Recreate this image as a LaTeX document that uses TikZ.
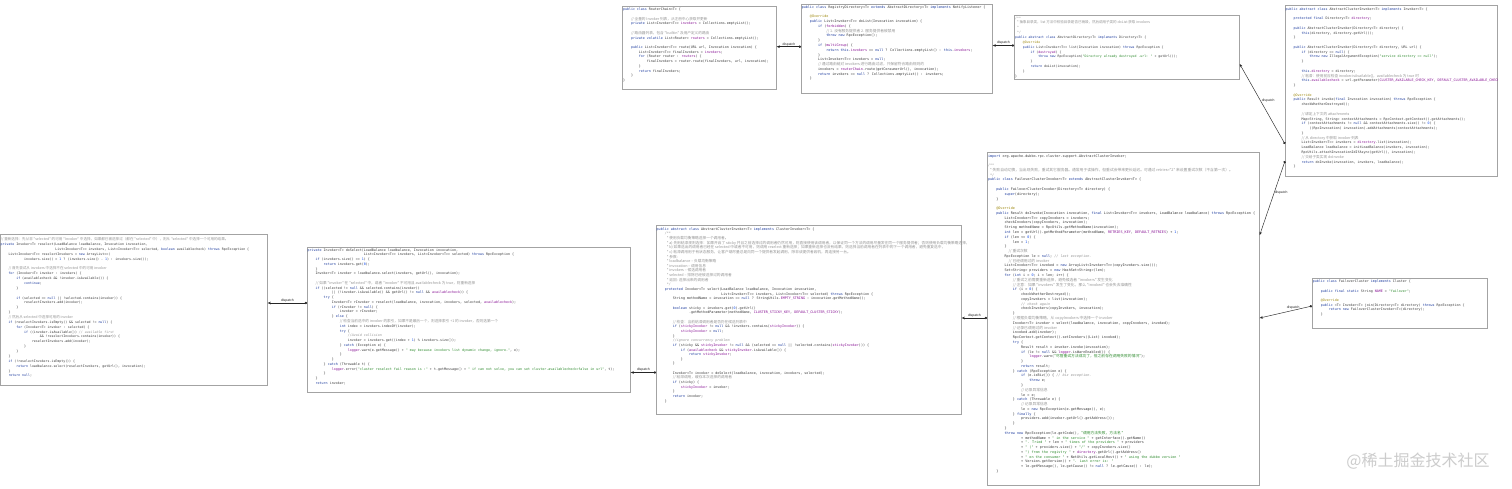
\documentclass[tikz,border=0pt]{standalone}
\usepackage{fontspec}
\setmainfont{Liberation Sans}
\newfontfamily\codefont{DejaVu Sans Mono}[Ligatures=TeXOff]
\newfontfamily\cjkfont{Noto Sans CJK SC}[Ligatures=TeXOff,Scale=1.1]
\newfontfamily\wmfont{Noto Sans CJK SC}
\newfontfamily\lblfont{Liberation Sans}
\usetikzlibrary{arrows.meta,calc}
\definecolor{codetext}{HTML}{383838}
\definecolor{kwc}{HTML}{1B3A9E}
\definecolor{cmc}{HTML}{959595}
\definecolor{stc}{HTML}{2E8B2E}
\definecolor{fdc}{HTML}{871094}
\definecolor{anc}{HTML}{9E880D}
\definecolor{nuc}{HTML}{1750EB}
\definecolor{boxc}{HTML}{A3A3A3}
\newcommand\jk[1]{{\color{kwc}#1}}
\newcommand\jc[1]{{\color{cmc}\itshape #1}}
\newcommand\jz[1]{{\color{cmc}\cjkfont #1}}
\newcommand\js[1]{{\color{stc}#1}}
\newcommand\jzs[1]{{\color{stc}\cjkfont #1}}
\newcommand\jf[1]{{\color{fdc}#1}}
\newcommand\ja[1]{{\color{anc}#1}}
\newcommand\jnum[1]{{\color{nuc}#1}}
\newcommand\jn[1]{\hspace*{#1\fontcharwd\font`0}}
\newcommand\jtop{\rule{0pt}{0.8\baselineskip}}
\newcommand\codesz[2]{\codefont\fontsize{#1pt}{#2pt}\selectfont}
\tikzset{
  codebox/.style={draw=boxc, line width=0.7pt, fill=white, anchor=north west, inner sep=0pt},
  code/.style={inner sep=0pt, anchor=north west, align=left, text=codetext},
  disp/.style={draw=black!85, line width=0.45pt, {Circle[length=2.4pt]}-{Stealth[length=3.2pt,width=2.6pt]}},
  lbl/.style={font=\lblfont\fontsize{3.4pt}{4pt}\selectfont, text=black!85, inner sep=0.4pt},
  wm/.style={font=\wmfont\fontsize{16pt}{18pt}\selectfont, text=gray!40, inner sep=0pt}
}
\begin{document}
\begin{tikzpicture}[x=1pt,y=-1pt]
\useasboundingbox (0,0) rectangle (1512,488);
\fill[white] (0,0) rectangle (1512,488);

% boxes
\node[codebox, minimum width=267pt, minimum height=151pt] (b1) at (0,234) {};
\node[codebox, minimum width=323pt, minimum height=145pt] (b2) at (307,247) {};
\node[codebox, minimum width=305pt, minimum height=189pt] (b3) at (656,225) {};
\node[codebox, minimum width=272pt, minimum height=333pt] (b4) at (987,152) {};
\node[codebox, minimum width=154pt, minimum height=83pt] (b5) at (622,6) {};
\node[codebox, minimum width=191pt, minimum height=89pt] (b6) at (801,4) {};
\node[codebox, minimum width=225pt, minimum height=64pt] (b7) at (1014,15) {};
\node[codebox, minimum width=212pt, minimum height=171pt] (b8) at (1285,5) {};
\node[codebox, minimum width=175pt, minimum height=50pt] (b9) at (1312,278) {};

% box 1: reselect
\node[code, font=\codesz{3.25}{4.86}] (t1) at (0.5,236.7) {%
\jtop\jz{// 重新选择：先从非 "selected" 的可用 "Invoker" 中选择，如果都已被选择过（都在 "selected" 中），则从 "selected" 中选择一个可用的结果。}\\
\jk{private} Invoker<T> reselect(LoadBalance loadbalance, Invocation invocation,\\
\jn{28}List<Invoker<T>> invokers, List<Invoker<T>> selected, \jk{boolean} availablecheck) \jk{throws} RpcException \{\\
\jn{4}List<Invoker<T>> reselectInvokers = \jk{new} ArrayList<>(\\
\jn{12}invokers.size() > \jnum{1} ? (invokers.size() - \jnum{1}) : invokers.size());\\
\mbox{}\\
\jn{4}\jz{// 首先尝试从 invokers 中选择不在 selected 中的可用 invoker}\\
\jn{4}\jk{for} (Invoker<T> invoker : invokers) \{\\
\jn{8}\jk{if} (availablecheck \&\& !invoker.isAvailable()) \{\\
\jn{12}\jk{continue};\\
\jn{8}\}\\
\mbox{}\\
\jn{8}\jk{if} (selected == \jk{null} || !selected.contains(invoker)) \{\\
\jn{12}reselectInvokers.add(invoker);\\
\jn{8}\}\\
\jn{4}\}\\
\jn{4}\jz{// 然后从 selected 中选择可用的 invoker}\\
\jn{4}\jk{if} (reselectInvokers.isEmpty() \&\& selected != \jk{null}) \{\\
\jn{8}\jk{for} (Invoker<T> invoker : selected) \{\\
\jn{12}\jk{if} ((invoker.isAvailable()) \jc{// available first}\\
\jn{20}\&\& !reselectInvokers.contains(invoker)) \{\\
\jn{16}reselectInvokers.add(invoker);\\
\jn{12}\}\\
\jn{8}\}\\
\jn{4}\}\\
\jn{4}\jk{if} (!reselectInvokers.isEmpty()) \{\\
\jn{8}\jk{return} loadbalance.select(reselectInvokers, getUrl(), invocation);\\
\jn{4}\}\\
\jn{4}\jk{return null};};

% box 2: doSelect
\node[code, font=\codesz{3.33}{4.76}] (t2) at (307.5,247.1) {%
\jtop\jk{private} Invoker<T> doSelect(LoadBalance loadbalance, Invocation invocation,\\
\jn{28}List<Invoker<T>> invokers, List<Invoker<T>> selected) \jk{throws} RpcException \{\\
\jn{4}\jk{if} (invokers.size() == \jnum{1}) \{\\
\jn{8}\jk{return} invokers.get(\jnum{0});\\
\jn{4}\}\\
\jn{4}Invoker<T> invoker = loadbalance.select(invokers, getUrl(), invocation);\\
\mbox{}\\
\jn{4}\jz{// 如果 "invoker" 在 "selected" 中，或者 "invoker" 不可用且 availablecheck 为 true，则重新选择}\\
\jn{4}\jk{if} ((selected != \jk{null} \&\& selected.contains(invoker))\\
\jn{12}|| (!invoker.isAvailable() \&\& getUrl() != \jk{null} \&\& \jf{availablecheck})) \{\\
\jn{8}\jk{try} \{\\
\jn{12}Invoker<T> rInvoker = reselect(loadbalance, invocation, invokers, selected, \jf{availablecheck});\\
\jn{12}\jk{if} (rInvoker != \jk{null}) \{\\
\jn{16}invoker = rInvoker;\\
\jn{12}\} \jk{else} \{\\
\jn{16}\jz{// 检查当前选中的 invoker 的索引，如果不是最后一个，则选择索引 +1 的 invoker，否则选第一个}\\
\jn{16}\jk{int} index = invokers.indexOf(invoker);\\
\jn{16}\jk{try} \{\\
\jn{20}\jc{//Avoid collision}\\
\jn{20}invoker = invokers.get((index + \jnum{1}) \% invokers.size());\\
\jn{16}\} \jk{catch} (Exception e) \{\\
\jn{20}\jf{logger}.warn(e.getMessage() + \js{" may because invokers list dynamic change, ignore."}, e);\\
\jn{16}\}\\
\jn{12}\}\\
\jn{8}\} \jk{catch} (Throwable t) \{\\
\jn{12}\jf{logger}.error(\js{"cluster reselect fail reason is :"} + t.getMessage() + \js{" if can not solve, you can set cluster.availablecheck=false in url"}, t);\\
\jn{8}\}\\
\jn{4}\}\\
\jn{4}\jk{return} invoker;};

% box 3: select
\node[code, font=\codesz{3.36}{4.65}] (t3) at (656.5,226.2) {%
\jtop\jk{public abstract class} AbstractClusterInvoker<T> \jk{implements} ClusterInvoker<T> \{\\
\jn{4}\jc{/**}\\
\jn{5}\jz{* 使用负载均衡策略选择一个调用者。}\\
\jn{5}\jz{* a) 先用粘滞规则选择：如果开启了 sticky 并且之前选择过的调用者仍然可用，则直接使用该调用者，以保证同一个方法的调用尽量发往同一个服务提供者；否则使用负载均衡策略选择，}\\
\jn{5}\jz{* b) 如果选出的调用者已经在 selected 中或者不可用，则调用 reselect 重新选择；如果重新选择也没有结果，则选择当前调用者在列表中的下一个调用者，避免重复选中，}\\
\jn{5}\jz{* c) 粘滞调用用于有状态服务，让客户端尽量总是向同一个提供者发起调用，除非该提供者宕机，再连接另一台。}\\
\jn{5}\jz{* 参数:}\\
\jn{5}\jz{* loadbalance – 负载均衡策略}\\
\jn{5}\jz{* invocation – 调用信息}\\
\jn{5}\jz{* invokers – 候选调用者}\\
\jn{5}\jz{* selected – 排除已经被选择过的调用者}\\
\jn{5}\jz{* 返回: 选择出来的调用者}\\
\jn{5}\jc{*/}\\
\jn{4}\jk{protected} Invoker<T> select(LoadBalance loadbalance, Invocation invocation,\\
\jn{32}List<Invoker<T>> invokers, List<Invoker<T>> selected) \jk{throws} RpcException \{\\
\jn{8}String methodName = invocation == \jk{null} ? StringUtils.\jf{EMPTY\_STRING} : invocation.getMethodName();\\
\mbox{}\\
\jn{8}\jk{boolean} sticky = invokers.get(\jnum{0}).getUrl()\\
\jn{16}.getMethodParameter(methodName, \jf{CLUSTER\_STICKY\_KEY}, \jf{DEFAULT\_CLUSTER\_STICKY});\\
\mbox{}\\
\jn{8}\jz{// 检查：当前粘滞调用者是否仍在候选列表中}\\
\jn{8}\jk{if} (\jf{stickyInvoker} != \jk{null} \&\& !invokers.contains(\jf{stickyInvoker})) \{\\
\jn{12}\jf{stickyInvoker} = \jk{null};\\
\jn{8}\}\\
\jn{8}\jc{//ignore concurrency problem}\\
\jn{8}\jk{if} (sticky \&\& \jf{stickyInvoker} != \jk{null} \&\& (selected == \jk{null} || !selected.contains(\jf{stickyInvoker}))) \{\\
\jn{12}\jk{if} (\jf{availablecheck} \&\& \jf{stickyInvoker}.isAvailable()) \{\\
\jn{16}\jk{return} \jf{stickyInvoker};\\
\jn{12}\}\\
\jn{8}\}\\
\mbox{}\\
\jn{8}Invoker<T> invoker = doSelect(loadbalance, invocation, invokers, selected);\\
\jn{8}\jz{// 粘滞调用，缓存本次选择的调用者}\\
\jn{8}\jk{if} (sticky) \{\\
\jn{12}\jf{stickyInvoker} = invoker;\\
\jn{8}\}\\
\jn{8}\jk{return} invoker;\\
\jn{4}\}};

% box 4: FailoverClusterInvoker
\node[code, font=\codesz{3.44}{4.78}] (t4) at (987.8,153) {%
\jtop\jk{import} org.apache.dubbo.rpc.cluster.support.AbstractClusterInvoker;\\
\mbox{}\\
\jc{/**}\\
\jn{1}\jz{* 失败自动切换，当出现失败，重试其它服务器。通常用于读操作，但重试会带来更长延迟。可通过 retries="2" 来设置重试次数（不含第一次）。}\\
\jn{1}\jc{*/}\\
\jk{public class} FailoverClusterInvoker<T> \jk{extends} AbstractClusterInvoker<T> \{\\
\mbox{}\\
\jn{4}\jk{public} FailoverClusterInvoker(Directory<T> directory) \{\\
\jn{8}\jk{super}(directory);\\
\jn{4}\}\\
\mbox{}\\
\jn{4}\ja{@Override}\\
\jn{4}\jk{public} Result doInvoke(Invocation invocation, \jk{final} List<Invoker<T>> invokers, LoadBalance loadbalance) \jk{throws} RpcException \{\\
\jn{8}List<Invoker<T>> copyInvokers = invokers;\\
\jn{8}checkInvokers(copyInvokers, invocation);\\
\jn{8}String methodName = RpcUtils.getMethodName(invocation);\\
\jn{8}\jk{int} len = getUrl().getMethodParameter(methodName, \jf{RETRIES\_KEY}, \jf{DEFAULT\_RETRIES}) + \jnum{1};\\
\jn{8}\jk{if} (len <= \jnum{0}) \{\\
\jn{12}len = \jnum{1};\\
\jn{8}\}\\
\jn{10}\jz{// 重试次数}\\
\jn{8}RpcException le = \jk{null}; \jc{// last exception.}\\
\jn{10}\jz{// 已经调用过的 invoker}\\
\jn{8}List<Invoker<T>> invoked = \jk{new} ArrayList<Invoker<T>>(copyInvokers.size());\\
\jn{8}Set<String> providers = \jk{new} HashSet<String>(len);\\
\jn{8}\jk{for} (\jk{int} i = \jnum{0}; i < len; i++) \{\\
\jn{12}\jz{// 重试之前需要重新选择，避免候选者 "invokers" 发生变化}\\
\jn{12}\jz{// 注意：如果 "invokers" 发生了变化，那么 "invoked" 也会失去准确性}\\
\jn{12}\jk{if} (i > \jnum{0}) \{\\
\jn{16}checkWhetherDestroyed();\\
\jn{16}copyInvokers = list(invocation);\\
\jn{16}\jc{// check again}\\
\jn{16}checkInvokers(copyInvokers, invocation);\\
\jn{12}\}\\
\jn{12}\jz{// 根据负载均衡策略，从 copyInvokers 中选择一个 invoker}\\
\jn{12}Invoker<T> invoker = select(loadbalance, invocation, copyInvokers, invoked);\\
\jn{12}\jz{// 记录已调用过的 invoker}\\
\jn{12}invoked.add(invoker);\\
\jn{12}RpcContext.getContext().setInvokers((List) invoked);\\
\jn{12}\jk{try} \{\\
\jn{16}Result result = invoker.invoke(invocation);\\
\jn{16}\jk{if} (le != \jk{null} \&\& \jf{logger}.isWarnEnabled()) \{\\
\jn{20}\jf{logger}.warn(\jzs{"尽管重试方法成功了，但之前存在调用失败的情况"});\\
\jn{16}\}\\
\jn{16}\jk{return} result;\\
\jn{12}\} \jk{catch} (RpcException e) \{\\
\jn{16}\jk{if} (e.isBiz()) \{ \jc{// biz exception.}\\
\jn{20}\jk{throw} e;\\
\jn{16}\}\\
\jn{16}\jz{// 记录异常信息}\\
\jn{16}le = e;\\
\jn{12}\} \jk{catch} (Throwable e) \{\\
\jn{16}\jz{// 记录异常信息}\\
\jn{16}le = \jk{new} RpcException(e.getMessage(), e);\\
\jn{12}\} \jk{finally} \{\\
\jn{16}providers.add(invoker.getUrl().getAddress());\\
\jn{12}\}\\
\jn{8}\}\\
\jn{8}\jk{throw new} RpcException(le.getCode(), \jzs{"调用方法失败，方法名 "}\\
\jn{16}+ methodName + \js{" in the service "} + getInterface().getName()\\
\jn{16}+ \js{". Tried "} + len + \js{" times of the providers "} + providers\\
\jn{16}+ \js{" ("} + providers.size() + \js{"/"} + copyInvokers.size()\\
\jn{16}+ \js{") from the registry "} + \jf{directory}.getUrl().getAddress()\\
\jn{16}+ \js{" on the consumer "} + NetUtils.getLocalHost() + \js{" using the dubbo version "}\\
\jn{16}+ Version.getVersion() + \js{". Last error is: "}\\
\jn{16}+ le.getMessage(), le.getCause() != \jk{null} ? le.getCause() : le);\\
\jn{4}\}};

% box 5: RouterChain
\node[code, font=\codesz{3.32}{4.71}] (t5) at (622.8,6.8) {%
\jtop\jk{public class} RouterChain<T> \{\\
\mbox{}\\
\jn{4}\jz{// 全量的 Invoker 列表，从注册中心获取并更新}\\
\jn{4}\jk{private} List<Invoker<T>> \jf{invokers} = Collections.emptyList();\\
\mbox{}\\
\jn{4}\jz{// 路由器列表，包含 "builtin" 及用户定义的路由}\\
\jn{4}\jk{private volatile} List<Router> \jf{routers} = Collections.emptyList();\\
\mbox{}\\
\jn{4}\jk{public} List<Invoker<T>> route(URL url, Invocation invocation) \{\\
\jn{8}List<Invoker<T>> finalInvokers = \jf{invokers};\\
\jn{8}\jk{for} (Router router : \jf{routers}) \{\\
\jn{12}finalInvokers = router.route(finalInvokers, url, invocation);\\
\jn{8}\}\\
\jn{8}\jk{return} finalInvokers;\\
\jn{4}\}\\
\}};

% box 6: RegistryDirectory
\node[code, font=\codesz{3.39}{4.78}] (t6) at (801.6,4.2) {%
\jtop\jk{public class} RegistryDirectory<T> \jk{extends} AbstractDirectory<T> \jk{implements} NotifyListener \{\\
\mbox{}\\
\jn{4}\ja{@Override}\\
\jn{4}\jk{public} List<Invoker<T>> doList(Invocation invocation) \{\\
\jn{8}\jk{if} (\jf{forbidden}) \{\\
\jn{12}\jz{// 1. 没有服务提供者 2. 服务提供者被禁用}\\
\jn{12}\jk{throw new} RpcException();\\
\jn{8}\}\\
\jn{8}\jk{if} (\jf{multiGroup}) \{\\
\jn{12}\jk{return this}.\jf{invokers} == \jk{null} ? Collections.emptyList() : \jk{this}.\jf{invokers};\\
\jn{8}\}\\
\jn{8}List<Invoker<T>> invokers = \jk{null};\\
\jn{8}\jz{// 通过路由链对 invokers 进行路由过滤，只保留符合路由规则的}\\
\jn{8}invokers = \jf{routerChain}.route(getConsumerUrl(), invocation);\\
\jn{8}\jk{return} invokers == \jk{null} ? Collections.emptyList() : invokers;\\
\jn{4}\}};

% box 7: AbstractDirectory
\node[code, font=\codesz{3.2}{4.86}] (t7) at (1015,15) {%
\jtop\jc{/**}\\
\jn{1}\jz{* 抽象目录类，list 方法中校验目录是否已销毁，然后调用子类的 doList 获取 invokers}\\
\jn{1}\jc{*}\\
\jn{1}\jc{*/}\\
\jk{public abstract class} AbstractDirectory<T> \jk{implements} Directory<T> \{\\
\jn{4}\ja{@Override}\\
\jn{4}\jk{public} List<Invoker<T>> list(Invocation invocation) \jk{throws} RpcException \{\\
\jn{8}\jk{if} (\jf{destroyed}) \{\\
\jn{12}\jk{throw new} RpcException(\js{"Directory already destroyed .url: "} + getUrl());\\
\jn{8}\}\\
\jn{8}\jk{return} doList(invocation);\\
\jn{4}\}\\
\}};

% box 8: AbstractClusterInvoker.invoke
\begin{scope}
\clip (b8.north west) rectangle (b8.south east);
\node[code, font=\codesz{3.32}{4.78}] (t8) at (1285.4,6.1) {%
\jtop\jk{public abstract class} AbstractClusterInvoker<T> \jk{implements} Invoker<T> \{\\
\mbox{}\\
\jn{4}\jk{protected final} Directory<T> \jf{directory};\\
\mbox{}\\
\jn{4}\jk{public} AbstractClusterInvoker(Directory<T> directory) \{\\
\jn{8}\jk{this}(directory, directory.getUrl());\\
\jn{4}\}\\
\mbox{}\\
\jn{4}\jk{public} AbstractClusterInvoker(Directory<T> directory, URL url) \{\\
\jn{8}\jk{if} (directory == \jk{null}) \{\\
\jn{12}\jk{throw new} IllegalArgumentException(\js{"service directory == null"});\\
\jn{8}\}\\
\mbox{}\\
\jn{8}\jk{this}.\jf{directory} = directory;\\
\jn{8}\jz{// 粘滞：使用前应检查 invoker.isAvailable()，availablecheck 为 true 时}\\
\jn{8}\jk{this}.\jf{availablecheck} = url.getParameter(\jf{CLUSTER\_AVAILABLE\_CHECK\_KEY}, \jf{DEFAULT\_CLUSTER\_AVAILABLE\_CHECK});\\
\jn{4}\}\\
\mbox{}\\
\jn{4}\ja{@Override}\\
\jn{4}\jk{public} Result invoke(\jk{final} Invocation invocation) \jk{throws} RpcException \{\\
\jn{8}checkWhetherDestroyed();\\
\mbox{}\\
\jn{8}\jz{// 绑定上下文的 attachments}\\
\jn{8}Map<String, String> contextAttachments = RpcContext.getContext().getAttachments();\\
\jn{8}\jk{if} (contextAttachments != \jk{null} \&\& contextAttachments.size() != \jnum{0}) \{\\
\jn{12}((RpcInvocation) invocation).addAttachments(contextAttachments);\\
\jn{8}\}\\
\jn{8}\jz{// 从 directory 中获取 invoker 列表}\\
\jn{8}List<Invoker<T>> invokers = \jf{directory}.list(invocation);\\
\jn{8}LoadBalance loadbalance = initLoadBalance(invokers, invocation);\\
\jn{8}RpcUtils.attachInvocationIdIfAsync(getUrl(), invocation);\\
\jn{8}\jz{// 交给子类实现 doInvoke}\\
\jn{8}\jk{return} doInvoke(invocation, invokers, loadbalance);\\
\jn{4}\}};
\end{scope}

% box 9: FailoverCluster
\node[code, font=\codesz{3.32}{4.66}] (t9) at (1312.6,278.9) {%
\jtop\jk{public class} FailoverCluster \jk{implements} Cluster \{\\
\mbox{}\\
\jn{4}\jk{public final static} String \jf{NAME} = \js{"failover"};\\
\mbox{}\\
\jn{4}\ja{@Override}\\
\jn{4}\jk{public} <T> Invoker<T> join(Directory<T> directory) \jk{throws} RpcException \{\\
\jn{8}\jk{return new} FailoverClusterInvoker<T>(directory);\\
\jn{4}\}};

% connectors
\draw[disp] (b6.west |- 0,46.7) -- node[lbl, above=0.3pt] (l1) {dispatch} (b5.east |- 0,46.7);
\draw[disp] (b7.west |- 0,45.5) -- node[lbl, above=0.3pt] (l2) {dispatch} (b6.east |- 0,45.5);
\draw[disp] (b8.west |- 0,144) -- node[lbl, pos=0.54, right=0.6pt] (l3) {dispatch} (b7.east |- 0,64);
\draw[disp] (b8.west |- 0,161) -- node[lbl, pos=0.43, right=0pt] (l4) {dispatch} (b4.east |- 0,235);
\draw[disp] (b9.west |- 0,306) -- node[lbl, pos=0.36, above=0.3pt] (l5) {dispatch} (b4.east |- 0,318);
\draw[disp] (b4.west |- 0,318) -- node[lbl, above=0.3pt] (l6) {dispatch} (b3.east |- 0,318);
\draw[disp] (b3.west |- 0,372.5) -- node[lbl, above=0.3pt] (l7) {dispatch} (b2.east |- 0,372.5);
\draw[disp] (b2.west |- 0,303) -- node[lbl, above=0.3pt] (l8) {dispatch} (b1.east |- 0,303);

% watermark
\node[wm] (wm) at (1418,461) {@稀土掘金技术社区};
\end{tikzpicture}
\end{document}
